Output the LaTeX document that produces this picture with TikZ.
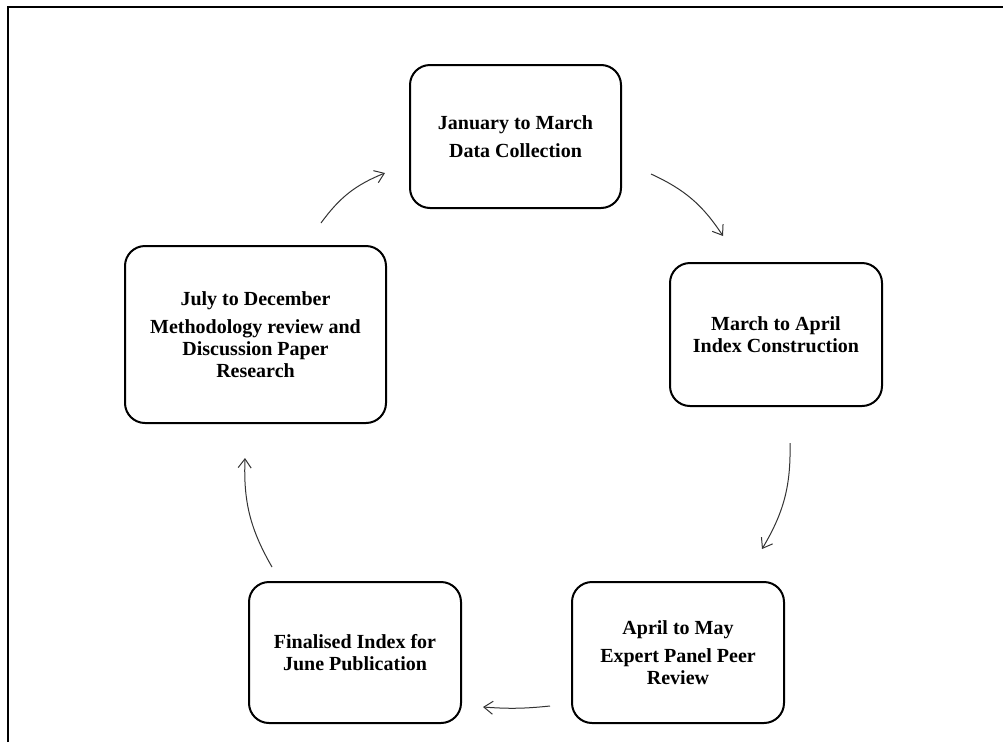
\documentclass[tikz,border=0pt]{standalone}
\usepackage{fontspec}
\setmainfont{Liberation Serif}
\usetikzlibrary{arrows.meta}
\begin{document}
\begin{tikzpicture}[x=1pt,y=-1pt,
  stage/.style={draw=black, line width=2pt, rounded corners=20pt, align=center,
    inner sep=0pt, font=\fontsize{20}{22}\selectfont\bfseries},
  flow/.style={draw=black!80, line width=1pt, bend left=16,
    -{Straight Barb[length=9pt,width=13pt,line width=1pt]}}]
  % page area
  \useasboundingbox (0,0) rectangle (1003,742);
  % frame along the top and left edges
  \draw[line width=2pt] (8,742) -- (8,7) -- (1003,7);

  % stages of the yearly cycle
  \node[stage, minimum width=211pt, minimum height=143pt] (jan) at (515.5,136.5)
    {January to March\\[6pt]Data Collection};
  \node[stage, minimum width=212pt, minimum height=143pt] (mar) at (776,334.5)
    {March to April\\Index Construction};
  \node[stage, minimum width=212pt, minimum height=141pt] (apr) at (678,652.5)
    {April to May\\[6pt]Expert Panel Peer\\Review};
  \node[stage, minimum width=212pt, minimum height=141pt] (fin) at (355,652.5)
    {Finalised Index for\\June Publication};
  \node[stage, minimum width=261pt, minimum height=177pt] (jul) at (255.5,334.5)
    {July to December\\[6pt]Methodology review and\\Discussion Paper\\Research};

  % arrow end points between the stages
  \coordinate (a1s) at (321,223);  \coordinate (a1e) at (385,173);
  \coordinate (a2s) at (651,174);  \coordinate (a2e) at (723,236);
  \coordinate (a3s) at (790,443);  \coordinate (a3e) at (762,549);
  \coordinate (a4s) at (550,706);  \coordinate (a4e) at (483,707);
  \coordinate (a5s) at (272,567);  \coordinate (a5e) at (245,458);

  \draw[flow] (a1s) to (a1e);
  \draw[flow] (a2s) to (a2e);
  \draw[flow] (a3s) to (a3e);
  \draw[flow, bend left=5] (a4s) to (a4e);
  \draw[flow] (a5s) to (a5e);
\end{tikzpicture}
\end{document}
